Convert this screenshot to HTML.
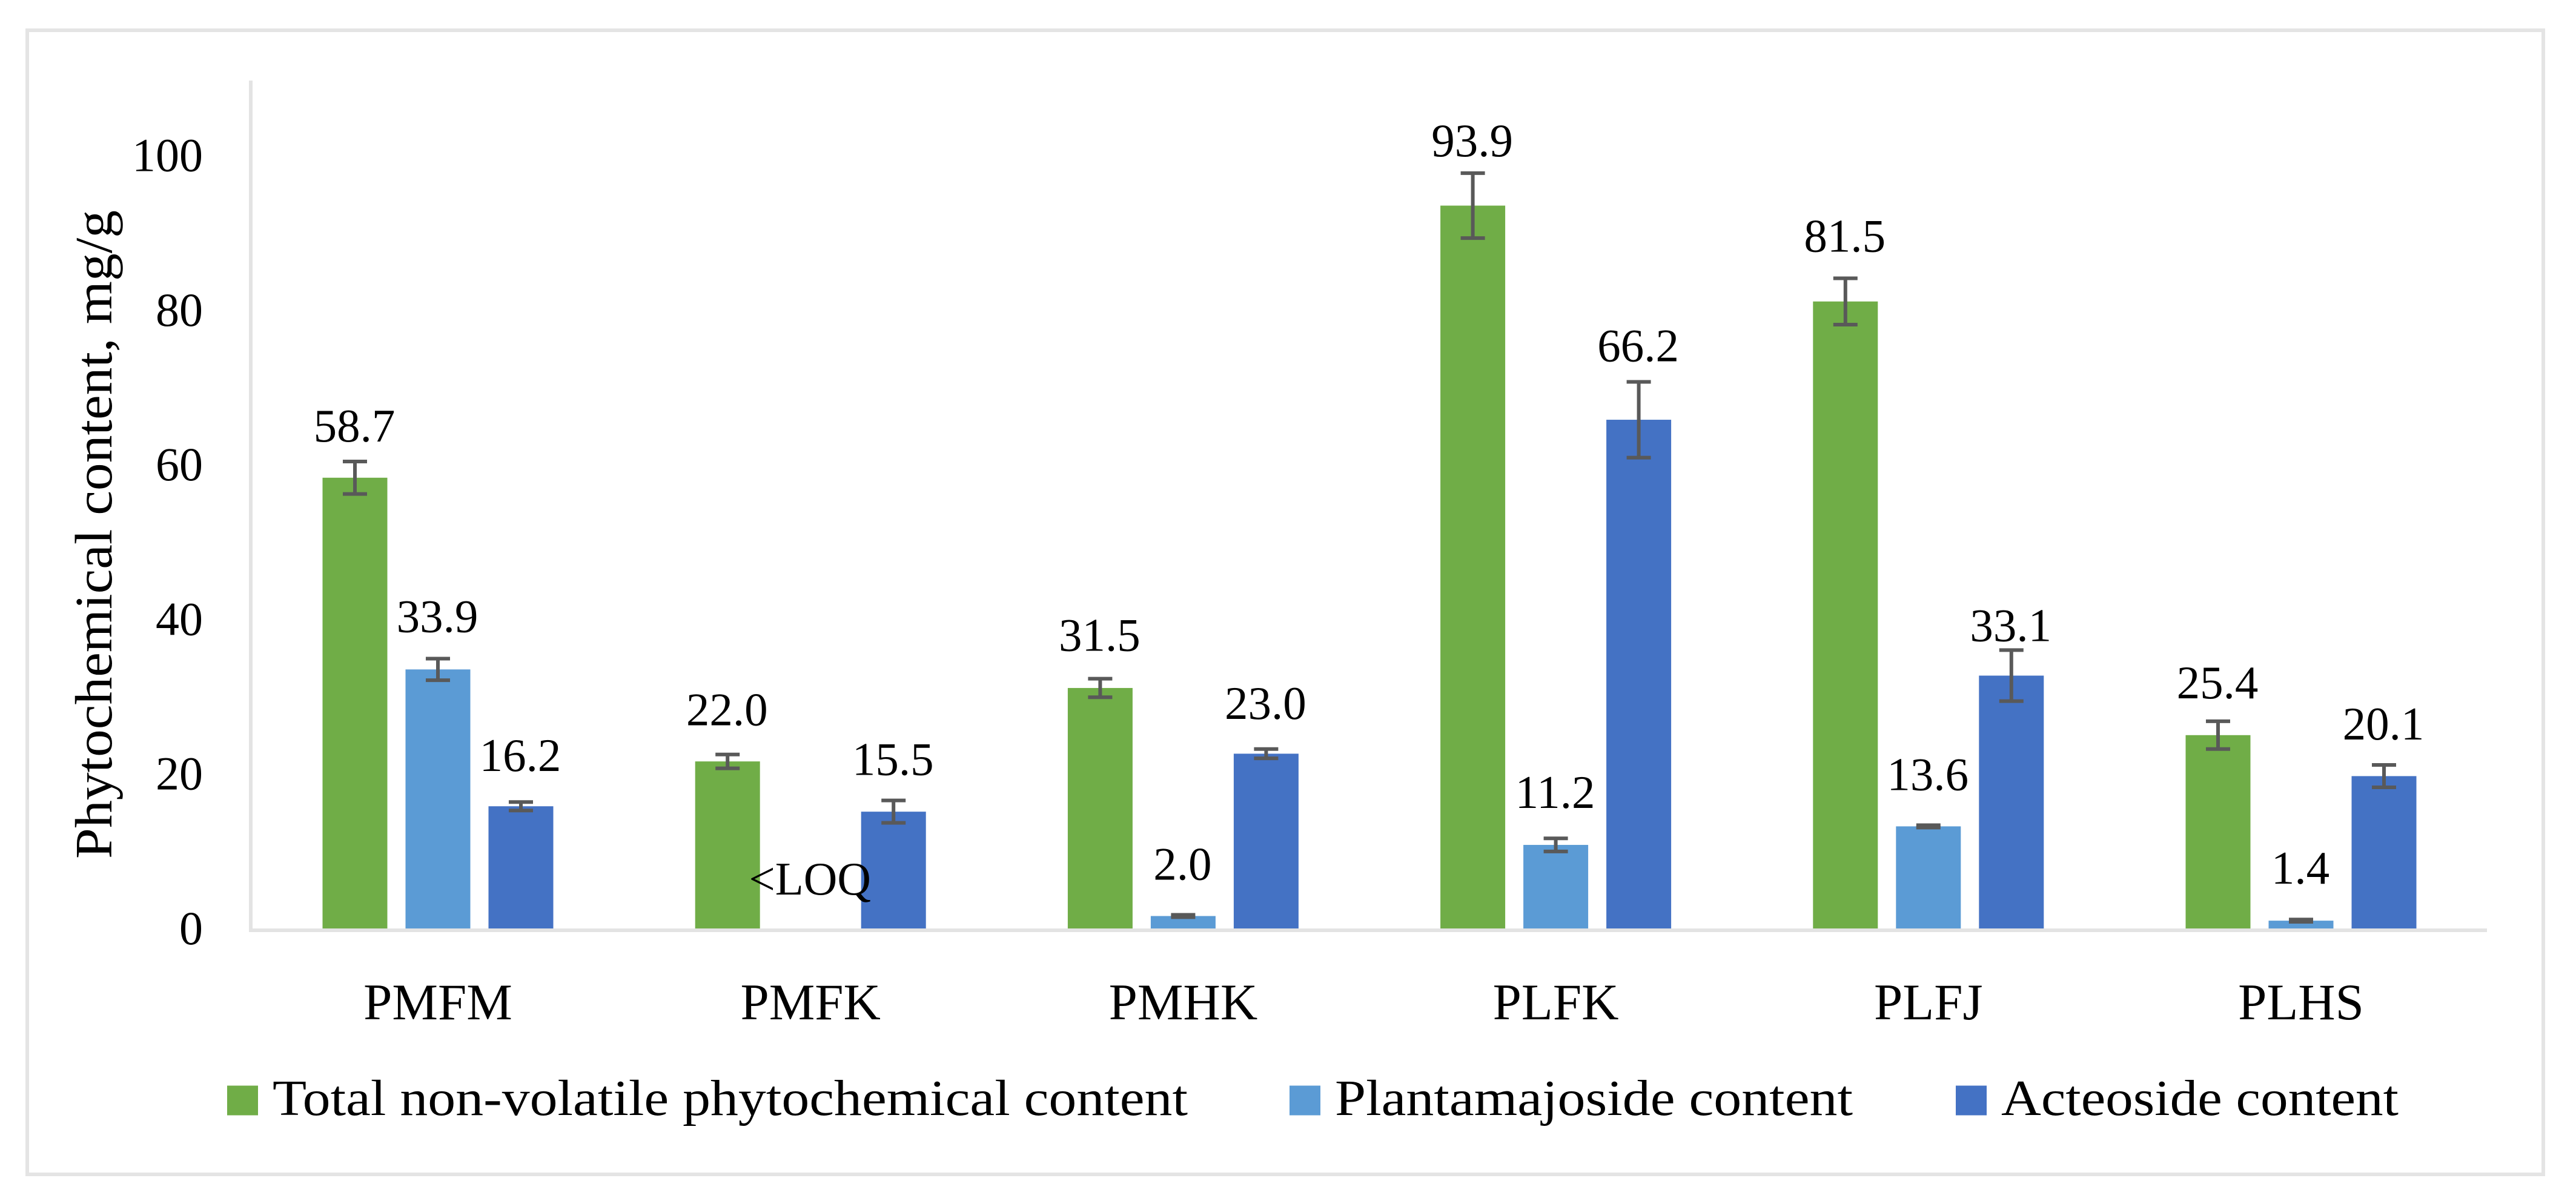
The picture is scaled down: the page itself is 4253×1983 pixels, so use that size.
<!DOCTYPE html>
<html lang="en">
<head>
<meta charset="utf-8">
<title>Phytochemical content chart</title>
<style>
  html, body { margin: 0; padding: 0; background: #ffffff; }
  svg { display: block; }
  text { font-family: "Liberation Serif", "DejaVu Serif", serif; fill: #000000; }
</style>
</head>
<body>
<svg id="chart" xmlns="http://www.w3.org/2000/svg" width="4253" height="1983" viewBox="0 0 4253 1983">
  <rect x="0" y="0" width="4253" height="1983" fill="#ffffff"/>
  <rect x="45" y="50" width="4154" height="1889" fill="#ffffff" stroke="#e4e4e4" stroke-width="6"/>
  <text transform="translate(184 1418) rotate(-90)" font-size="87" textLength="1071" lengthAdjust="spacingAndGlyphs">Phytochemical content, mg/g</text>
  <g id="y-ticks"></g>
  <g id="bars"></g>
  <g id="errors"></g>
  <g id="axes"></g>
  <g id="value-labels"></g>
  <g id="x-labels"></g>
  <g id="legend"></g>
</svg>
<script>
// ---- Chart data ----
const categories = ["PMFM", "PMFK", "PMHK", "PLFK", "PLFJ", "PLHS"];
const totalContent = [58.7, 22.0, 31.5, 93.9, 81.5, 25.4];
const plantamajoside = [33.9, null, 2.0, 11.2, 13.6, 1.4];
const acteoside = [16.2, 15.5, 23.0, 66.2, 33.1, 20.1];
const totalError = [2.1, 0.9, 1.2, 4.2, 3.0, 1.8];
const plantamajosideError = [1.4, 0, 0.15, 0.85, 0.15, 0.15];
const acteosideError = [0.55, 1.45, 0.6, 4.9, 3.3, 1.45];
const yTicks = [0, 20, 40, 60, 80, 100];
const seriesNames = ["Total non-volatile phytochemical content", "Plantamajoside content", "Acteoside content"];
const belowLimitLabel = "<LOQ";

// ---- Layout ----
const SVG_NS = "http://www.w3.org/2000/svg";
const plot = { left: 415.4, right: 4106.6, top: 134, zero: 1538, yMax: 110 };
const barWidth = 107;
const barOffset = 137;
const capWidth = 40;
const errColor = "#595959";
const seriesColors = ["#70AD47", "#5B9BD5", "#4472C4"];
const seriesSlugs = ["total", "plantamajoside", "acteoside"];
const seriesValues = [totalContent, plantamajoside, acteoside];
const seriesErrors = [totalError, plantamajosideError, acteosideError];
// Data labels were hand-placed in the original: clearance above each error bar.
const labelClearance = [
  [33, 48, 46, 28, 44, 38],
  [44, 61, 58, 50, 58, 59],
  [51, 42, 50, 34, 15, 42]
];

function yScale(v) {
  return plot.zero - v * (plot.zero - plot.top) / plot.yMax;
}
function xBand(i) {
  const band = (plot.right - plot.left) / categories.length;
  return plot.left + (i + 0.5) * band;
}
function xBar(i, s) {
  return xBand(i) + (s - 1) * barOffset;
}
function make(tag, attrs, parent, content) {
  const el = document.createElementNS(SVG_NS, tag);
  for (const k in attrs) el.setAttribute(k, attrs[k]);
  if (content !== undefined) el.textContent = content;
  parent.appendChild(el);
  return el;
}

const gTicks = document.getElementById("y-ticks");
const gBars = document.getElementById("bars");
const gErrors = document.getElementById("errors");
const gAxes = document.getElementById("axes");
const gValues = document.getElementById("value-labels");
const gX = document.getElementById("x-labels");
const gLegend = document.getElementById("legend");

yTicks.forEach(function (t) {
  const el = make("text", { x: 335, y: yScale(t) + 21, "font-size": 78, "text-anchor": "end" }, gTicks, String(t));
  
  
});

seriesValues.forEach(function (values, s) {
  values.forEach(function (v, i) {
    const cx = xBar(i, s);
    const err = seriesErrors[s][i];
    if (v !== null) {
      const bar = make("rect", {
        x: cx - barWidth / 2,
        y: yScale(v),
        width: barWidth,
        height: plot.zero - yScale(v),
        fill: seriesColors[s]
      }, gBars);
      
      

      const yHi = yScale(v + err);
      const yLo = yScale(v - err);
      const eg = make("g", { stroke: errColor, "stroke-width": 6, fill: "none" }, gErrors);
      
      
      make("line", { x1: cx, x2: cx, y1: yHi, y2: yLo }, eg);
      make("line", { x1: cx - capWidth / 2, x2: cx + capWidth / 2, y1: yHi, y2: yHi }, eg);
      make("line", { x1: cx - capWidth / 2, x2: cx + capWidth / 2, y1: yLo, y2: yLo }, eg);
    }
    const top = v === null ? plot.zero : yScale(v + err);
    const text = v === null ? belowLimitLabel : v.toFixed(1);
    const label = make("text", {
      x: cx - 1,
      y: top - labelClearance[s][i],
      "font-size": 77,
      "text-anchor": "middle"
    }, gValues, text);
    
    
  });
});

const yAxis = make("line", { x1: 414, x2: 414, y1: 133, y2: 1539, stroke: "#e3e3e3", "stroke-width": 6 }, gAxes);


const xAxis = make("line", { x1: 411, x2: 4106, y1: 1536, y2: 1536, stroke: "#e3e3e3", "stroke-width": 6 }, gAxes);



categories.forEach(function (c, i) {
  const el = make("text", { x: xBand(i), y: 1683, "font-size": 85, "text-anchor": "middle" }, gX, c);
  
  
});

const legendSwatchX = [375, 2129, 3229];
const legendTextX = [450, 2204, 3304];
const legendTextLen = [1511, 855, 656];
seriesNames.forEach(function (name, s) {
  const entry = make("g", {}, gLegend);
  
  
  const sw = make("rect", { x: legendSwatchX[s], y: 1792.5, width: 51, height: 49, fill: seriesColors[s] }, entry);
  
  
  const tx = make("text", {
    x: legendTextX[s],
    y: 1841,
    "font-size": 84,
    textLength: legendTextLen[s],
    lengthAdjust: "spacingAndGlyphs"
  }, entry, name);
  
  
});
</script>
</body>
</html>
